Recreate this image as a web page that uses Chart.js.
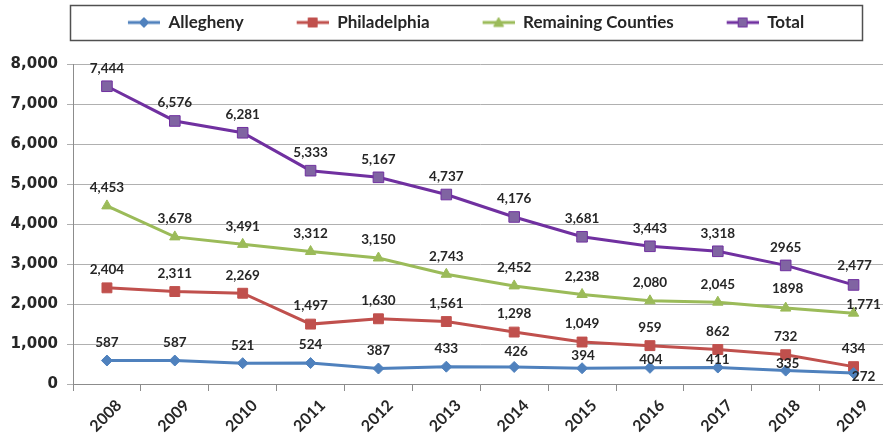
<!DOCTYPE html>
<html><head><meta charset="utf-8">
<script src="https://cdn.jsdelivr.net/npm/chart.js@4.4.1/dist/chart.umd.min.js"></script>
<style>
html,body{margin:0;padding:0;overflow:hidden;background:#fff;width:883px;height:436px}
#wrap{position:relative;width:896px;height:436px}
</style>
</head><body>
<div id="wrap"><canvas id="c" width="896" height="436"></canvas></div>
<script>
const years = ['2008','2009','2010','2011','2012','2013','2014','2015','2016','2017','2018','2019'];
const seriesNames = ['Allegheny','Philadelphia','Remaining Counties','Total'];
const allegheny    = [587, 587, 521, 524, 387, 433, 426, 394, 404, 411, 335, 272];
const philadelphia = [2404, 2311, 2269, 1497, 1630, 1561, 1298, 1049, 959, 862, 732, 434];
const remaining    = [4453, 3678, 3491, 3312, 3150, 2743, 2452, 2238, 2080, 2045, 1898, 1771];
const total        = [7444, 6576, 6281, 5333, 5167, 4737, 4176, 3681, 3443, 3318, 2965, 2477];
const yTicks = [0, 1000, 2000, 3000, 4000, 5000, 6000, 7000, 8000];
// labels printed without a thousands separator in the original: [seriesIndex, pointIndex]
const plainLabels = [[2, 10], [3, 10]];

const FONT = 'Lato, "Open Sans", sans-serif';
const TEXT = '#262626';
const colors = [
  {line:'#4F81BD', fill:'#4F81BD', style:'rectRot', r:5.5},
  {line:'#C0504D', fill:'#C0504D', style:'rect', r:7},
  {line:'#9BBB59', fill:'#9BBB59', style:'triangle', r:6},
  {line:'#7030A0', fill:'#8064A2', style:'rect', r:7.5}
];
// label offsets (dx, dy) relative to point; default above
const labelOffsets = {
  '0-6':[2,-15], '0-7':[1,-13], '0-8':[1,-8], '0-9':[0,-8], '0-10':[2,-7], '0-11':[10,4],
  '2-11':[10,-9], '3-11':[1,-19], '2-10':[2,-19]
};

function fmt(v, si, pi) {
  for (const [a,b] of plainLabels) if (a===si && b===pi) return String(v);
  return v.toLocaleString('en-US');
}

const ICON_GAP = 43, ICON_LINE = 32, ICON_W = ICON_GAP + ICON_LINE;
function legendIcon(c) {
  const cv = document.createElement('canvas');
  cv.width = ICON_W; cv.height = 14;
  const g = cv.getContext('2d');
  const x0 = ICON_GAP, cx = ICON_GAP + ICON_LINE / 2;
  g.strokeStyle = c.line; g.lineWidth = 3;
  g.beginPath(); g.moveTo(x0,7); g.lineTo(ICON_W,7); g.stroke();
  g.fillStyle = c.fill; g.strokeStyle = c.line; g.lineWidth = 1;
  g.beginPath();
  if (c.style === 'rectRot') { g.moveTo(cx,2); g.lineTo(cx+5,7); g.lineTo(cx,12); g.lineTo(cx-5,7); g.closePath(); }
  else if (c.style === 'triangle') { g.moveTo(cx,2); g.lineTo(cx+5,11); g.lineTo(cx-5,11); g.closePath(); }
  else { g.rect(cx-4.5,2.5,9,9); }
  g.fill(); g.stroke();
  return cv;
}
const icons = colors.map(legendIcon);

const allData = [allegheny, philadelphia, remaining, total];

const dataLabelPlugin = {
  id: 'dataLabels',
  afterDatasetsDraw(chart) {
    const ctx = chart.ctx;
    ctx.save();
    ctx.font = 'bold 13.5px ' + FONT;
    ctx.fillStyle = TEXT;
    ctx.textAlign = 'center';
    ctx.textBaseline = 'middle';
    chart.data.datasets.forEach((ds, si) => {
      const meta = chart.getDatasetMeta(si);
      meta.data.forEach((pt, pi) => {
        const off = labelOffsets[si + '-' + pi] || [0, -18];
        ctx.fillText(fmt(ds.data[pi], si, pi), pt.x + off[0], pt.y + off[1]);
      });
    });
    ctx.restore();
  }
};

const legendBoxPlugin = {
  id: 'legendBox',
  beforeDraw(chart) {
    const lg = chart.legend;
    lg.left = 70 - ICON_GAP / 2; lg.right = 862 - ICON_GAP / 2; lg.top = 4;
  },
  afterDraw(chart) {
    const ctx = chart.ctx;
    ctx.save();
    ctx.strokeStyle = '#505050';
    ctx.lineWidth = 1.5;
    ctx.strokeRect(70.5, 5.5, 792, 35);
    ctx.restore();
  }
};

new Chart(document.getElementById('c'), {
  type: 'line',
  data: {
    labels: years,
    datasets: allData.map((d, i) => ({
      label: seriesNames[i],
      data: d,
      borderColor: colors[i].line,
      backgroundColor: colors[i].fill,
      pointBackgroundColor: colors[i].fill,
      pointBorderColor: colors[i].line,
      pointStyle: colors[i].style,
      pointRadius: colors[i].r,
      pointBorderWidth: 1,
      borderWidth: 3,
      tension: 0,
      fill: false
    }))
  },
  options: {
    responsive: false,
    animation: false,
    devicePixelRatio: 1,
    layout: { padding: { top: 27, left: 0, right: 0, bottom: 0 } },
    plugins: {
      tooltip: { enabled: false },
      legend: {
        position: 'top',
        labels: {
          usePointStyle: true,
          pointStyleWidth: ICON_W,
          boxHeight: 14,
          padding: 10,
          color: TEXT,
          font: { family: FONT, size: 17, weight: 'bold' },
          generateLabels(chart) {
            return chart.data.datasets.map((ds, i) => ({
              text: ds.label,
              pointStyle: icons[i],
              fillStyle: colors[i].fill,
              strokeStyle: colors[i].line,
              lineWidth: 0,
              fontColor: TEXT,
              hidden: false,
              datasetIndex: i
            }));
          }
        }
      }
    },
    scales: {
      x: {
        type: 'category',
        offset: true,
        afterFit(s) { s.height = 52; },
        grid: { offset: true, drawOnChartArea: false, drawTicks: true, tickLength: 7, color: '#8c8c8c' },
        border: { display: true, color: '#8c8c8c', width: 1 },
        ticks: {
          minRotation: 45, maxRotation: 45, labelOffset: 12, padding: 5,
          color: TEXT, font: { family: FONT, size: 16, weight: 'bold' }
        }
      },
      y: {
        min: 0, max: 8000,
        afterFit(s) { s.width = 73; },
        afterBuildTicks(s) { s.ticks = yTicks.map(v => ({ value: v })); },
        grid: { color: '#b0b0b0', lineWidth: 1, tickLength: 6, drawTicks: true },
        border: { display: true, color: '#8c8c8c', width: 1 },
        ticks: {
          padding: 9, color: TEXT,
          font: { family: '"DejaVu Sans", sans-serif', size: 15, weight: 'bold' },
          callback: v => v.toLocaleString('en-US')
        }
      }
    }
  },
  plugins: [dataLabelPlugin, legendBoxPlugin]
});
</script>
</body></html>
